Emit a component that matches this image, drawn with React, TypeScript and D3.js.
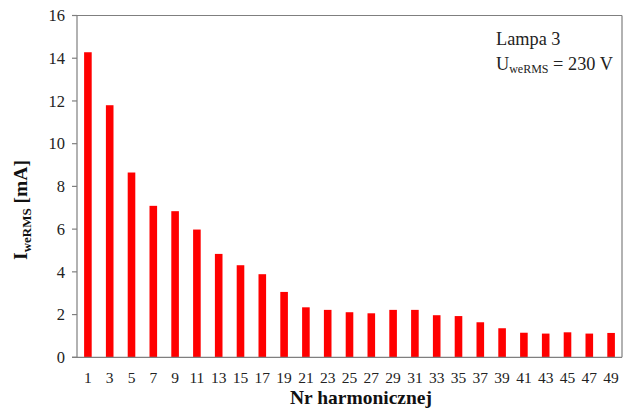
import React from "react";
import * as d3 from "d3";

const harmonics = [1,3,5,7,9,11,13,15,17,19,21,23,25,27,29,31,33,35,37,39,41,43,45,47,49];
const currents = [14.28,11.8,8.65,7.09,6.84,5.98,4.84,4.31,3.89,3.06,2.34,2.22,2.11,2.06,2.22,2.22,1.97,1.93,1.64,1.36,1.15,1.11,1.17,1.11,1.14];
const yTicks = [0,2,4,6,8,10,12,14,16];

const W = 634, H = 410;
const L = 77, R = 622, T = 15.5, B = 357.3;
const FONT = "Liberation Serif, serif";

export default function App() {
  const x = d3.scaleBand<number>().domain(harmonics).range([L, R]).paddingInner(0).paddingOuter(0);
  const y = d3.scaleLinear().domain([0, 16]).range([B, T]);
  const bw = 7.6;
  return (
    <svg width={W} height={H} style={{ position: "absolute", left: 0, top: 0, background: "#fff" }}>
      <rect x={0} y={0} width={W} height={H} fill="#fff" />
      <line x1={L} x2={R} y1={T} y2={T} stroke="#7f7f7f" strokeWidth={1.2} />
      <line x1={R} x2={R} y1={T} y2={B} stroke="#7f7f7f" strokeWidth={1.2} />
      {harmonics.map((h, i) => (
        <rect key={h} x={(x(h) as number) + x.bandwidth() / 2 - bw / 2} y={y(currents[i])}
          width={bw} height={B - y(currents[i])} fill="#ff0000" />
      ))}
      <line x1={L} x2={L} y1={T} y2={B} stroke="#7f7f7f" strokeWidth={1.2} />
      <line x1={72} x2={R} y1={B} y2={B} stroke="#7f7f7f" strokeWidth={1.2} />
      {yTicks.map(t => (
        <g key={t}>
          <line x1={72} x2={L} y1={y(t)} y2={y(t)} stroke="#7f7f7f" strokeWidth={1.2} />
          <text x={65} y={y(t)} dy="0.35em" textAnchor="end" fontFamily={FONT} fontSize={16.5} fill="#222">{t}</text>
        </g>
      ))}
      {harmonics.map(h => (
        <text key={h} x={(x(h) as number) + x.bandwidth() / 2} y={382.5} textAnchor="middle"
          fontFamily={FONT} fontSize={15.5} fill="#222">{h}</text>
      ))}
      <text x={361} y={404} textAnchor="middle" fontFamily={FONT} fontSize={19.5} fontWeight="bold" fill="#111">Nr harmonicznej</text>
      <text transform={`translate(27,210) rotate(-90)`} textAnchor="middle" fontFamily={FONT} fontSize={19.5} fontWeight="bold" fill="#111">
        I<tspan fontSize={13} dy={4}>weRMS</tspan><tspan dy={-4}> [mA]</tspan>
      </text>
      <text x={496} y={45} fontFamily={FONT} fontSize={18.3} fill="#222">Lampa 3</text>
      <text x={496} y={70} fontFamily={FONT} fontSize={18.3} fill="#222">
        U<tspan fontSize={12} dy={3}>weRMS</tspan><tspan dy={-3}> = 230 V</tspan>
      </text>
    </svg>
  );
}
